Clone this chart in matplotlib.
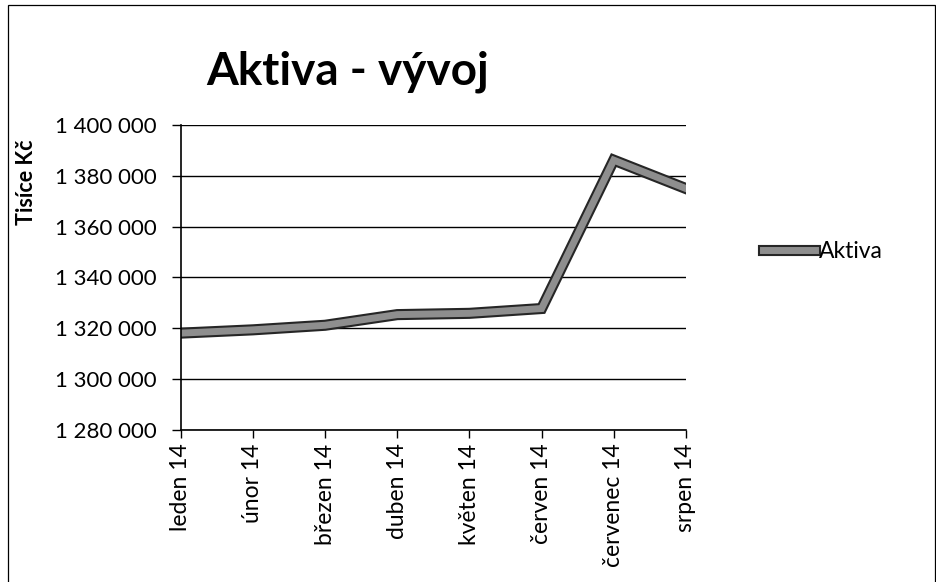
import matplotlib.pyplot as plt
import matplotlib.patheffects as pe
from matplotlib.patches import Rectangle
from matplotlib.ticker import FuncFormatter

plt.rcParams['font.family'] = ['Lato', 'DejaVu Sans']

mesice = ['leden 14', 'únor 14', 'březen 14', 'duben 14',
          'květen 14', 'červen 14', 'červenec 14', 'srpen 14']
aktiva = [1318000, 1319300, 1321100, 1325300, 1325800, 1327700, 1386200, 1375000]
y_ticks = [1280000, 1300000, 1320000, 1340000, 1360000, 1380000, 1400000]

fig = plt.figure(figsize=(9.37, 5.82), dpi=100)
ax = fig.add_axes([0.193, 0.262, 0.539, 0.523])

x = list(range(len(mesice)))
ax.plot(x, aktiva, color='#8e8e8e', linewidth=5, solid_joinstyle='miter',
        label='Aktiva',
        path_effects=[pe.Stroke(linewidth=8, foreground='#262626'), pe.Normal()])

ax.set_xlim(0, len(mesice) - 1)
ax.set_ylim(y_ticks[0], y_ticks[-1])
ax.set_yticks(y_ticks)
ax.yaxis.set_major_formatter(FuncFormatter(lambda v, p: f'{int(v):,}'.replace(',', ' ')))
ax.set_xticks(x)
ax.set_xticklabels(mesice, rotation=90, fontsize=16.5)
ax.tick_params(axis='y', labelsize=16, length=6.5, width=1, pad=11)
ax.tick_params(axis='x', length=6, width=1, pad=4)
ax.grid(axis='y', color='black', linewidth=1)
ax.set_axisbelow(True)
for s in ['top', 'right']:
    ax.spines[s].set_visible(False)
for s in ['left', 'bottom']:
    ax.spines[s].set_linewidth(1.2)

ax.set_ylabel('Tisíce Kč', fontsize=15.5, fontweight='bold')
ax.yaxis.set_label_coords(-0.285, 0.813)

fig.text(0.371, 0.876, 'Aktiva - vývoj', fontsize=33, fontweight='bold',
         ha='center', va='center')

leg = ax.legend(loc='center left', bbox_to_anchor=(1.152, 0.584), frameon=False,
                fontsize=16.5, handlelength=2.3, handletextpad=0.15,
                borderpad=0, borderaxespad=0)

fig.patches.append(Rectangle((0.009, -0.01), 0.989, 1.002, transform=fig.transFigure,
                             fill=False, edgecolor='black', linewidth=0.9))

fig.savefig('out.png', dpi=100)
